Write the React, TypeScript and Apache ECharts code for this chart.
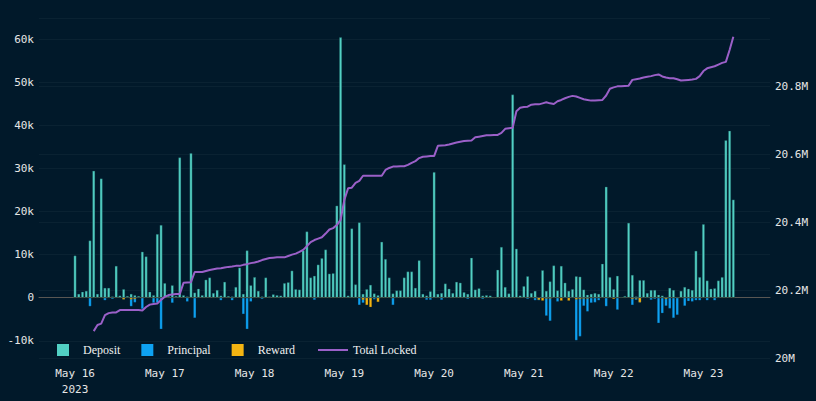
import React, { useEffect, useRef } from 'react';
import * as echarts from 'echarts';

// Hour offsets (0 = May 16 2023 00:00) of the day labels
const dayTicks = [0, 24, 48, 72, 96, 120, 144, 168];
const dayLabels = ['May 16\n2023', 'May 17', 'May 18', 'May 19', 'May 20', 'May 21', 'May 22', 'May 23'];
const leftTicks = [-10000, 0, 10000, 20000, 30000, 40000, 50000, 60000];

// Hourly values, in thousands, starting at hour 0
const depositK = [
  9.8, 0.9, 1.4, 1.6, 13.3, 29.5, 0.9, 27.7, 2.3, 2.3,
  0.3, 7.4, 0.5, 2.0, 0.4, 0.9, 0.6, 0.4, 10.7, 9.6,
  1.4, 0.6, 14.8, 16.9, 3.4, 0.4, 2.9, 0.4, 32.6, 0.6,
  0.3, 33.6, 1.2, 2.1, 0.6, 4.2, 4.7, 1.1, 1.8, 0.5,
  3.7, 0.4, 0.3, 2.5, 7.0, 0.9, 11.0, 2.9, 4.8, 1.6,
  0.3, 4.7, 0.3, 0.8, 0.6, 0.5, 3.4, 3.6, 6.3, 2.0,
  1.9, 11.0, 15.4, 4.7, 5.1, 7.7, 9.2, 11.2, 5.6, 5.7,
  21.4, 60.5, 31.0, 0.5, 16.1, 3.1, 17.5, 0.9, 2.0, 3.0,
  1.0, 0.6, 13.0, 9.0, 4.7, 1.0, 1.7, 1.7, 4.7, 6.1,
  6.1, 2.3, 8.7, 0.9, 0.5, 1.5, 29.2, 0.9, 1.1, 3.3,
  2.1, 1.1, 3.7, 3.5, 1.3, 0.9, 9.3, 1.9, 2.2, 0.5,
  0.6, 0.5, 0.2, 6.5, 11.8, 2.5, 1.0, 47.2, 11.4, 0.5,
  2.7, 5.0, 1.1, 1.6, 0.1, 6.4, 1.6, 3.8, 7.5, 1.7,
  7.4, 3.5, 1.6, 2.0, 5.0, 4.9, 1.9, 0.7, 0.9, 1.1,
  0.9, 7.9, 25.8, 4.8, 2.0, 5.1, 0.2, 0.4, 17.4, 5.3,
  0.3, 4.1, 4.1, 1.1, 1.8, 1.8, 0.7, 0.5, 0.2, 2.3,
  1.8, 0.2, 1.6, 2.5, 2.1, 1.8, 10.9, 4.8, 17.1, 4.0,
  2.1, 2.2, 4.0, 4.8, 36.6, 38.8, 22.8,
];

const principalK = [
  0, 0, 0, 0, -2.0, 0, 0, 0, -0.6, 0,
  -0.3, 0, 0, -0.4, 0, -2.0, -1.1, 0, -2.6, 0,
  0, -1.2, -1.2, -7.3, 0, 0, -1.2, 0, 0, 0,
  -0.9, 0, -4.7, 0, 0, 0, 0, 0, 0, -0.6,
  0, 0, -0.6, 0, 0, -3.8, -7.3, -0.9, 0, 0,
  -0.3, 0, 0, 0, 0, 0, 0, 0, 0, 0,
  0, 0, 0, 0, -0.5, 0, 0, 0, 0, 0,
  0, 0, 0, 0, 0, 0, -1.7, -1.2, -0.5, -0.6,
  -0.4, -0.3, 0, 0, 0, -1.7, 0, 0, 0, 0,
  0, 0, 0, 0, -0.5, -0.5, 0, 0, -0.5, 0,
  0, 0, 0, 0, 0, -0.3, 0, 0, 0, -0.3,
  0, 0, 0, 0, 0, 0, 0, 0, 0, 0,
  0, -0.3, 0, -0.6, -0.6, -0.2, -4.2, -5.4, 0, -0.9,
  0, 0, 0, 0, -9.9, -9.0, -1.9, -3.2, -1.2, -1.1,
  -0.6, 0, -2.0, 0, 0, -2.8, 0, 0, 0, -1.7,
  -0.5, -1.1, 0, 0, -0.5, -0.3, -5.9, -3.6, -1.9, -2.5,
  -4.7, -4.0, 0, -1.9, -0.8, -0.9, -0.6, -0.6, 0, -0.6,
  0, -0.6, 0, 0, 0, 0, 0,
];

const rewardK = [
  0, 0, 0, 0, 0, 0, 0, 0, 0, 0,
  0, 0, 0, -0.4, 0, -0.4, -0.3, 0, 0, 0,
  0, 0, 0, 0, 0, 0, 0, 0, 0, 0,
  0, 0, 0, 0, 0, 0, 0, 0, 0, 0,
  0, 0, 0, 0, 0, 0, 0, 0, 0, 0,
  0, 0, 0, 0, 0, 0, 0, 0, 0, 0,
  0, 0, 0, 0, 0, 0, 0, 0, 0, 0,
  0, 0, 0, 0, 0, 0, 0, -0.5, -1.7, -2.2,
  0, -1.0, 0, 0, 0, 0, 0, 0, 0, 0,
  0, 0, 0, 0, 0, 0, 0, 0, 0, 0,
  0, 0, 0, 0, 0, 0, 0, 0, 0, 0,
  0, 0, 0, 0, 0, 0, 0, 0, 0, 0,
  0, 0, 0, 0, -0.5, -0.7, -0.2, -0.2, 0, 0,
  -0.7, 0, -0.7, 0, -0.4, -0.3, -0.2, -0.2, 0, 0,
  0, 0, 0, 0, -0.3, 0, 0, 0, 0, -0.3,
  -0.2, -1.1, 0, 0, 0, 0, 0, 0, -0.3, 0,
  0, 0, 0, 0, 0, 0, 0, 0, 0, 0,
  0, 0, 0, 0, 0, 0, 0,
];

// Total locked, in millions, hourly from hour 5
const lockedStartHour = 5;
const totalLockedM = [
  20.079, 20.097, 20.101, 20.126, 20.132, 20.134, 20.134, 20.141, 20.141, 20.141,
  20.141, 20.141, 20.141, 20.140, 20.150, 20.157, 20.159, 20.160, 20.171, 20.180,
  20.185, 20.187, 20.188, 20.188, 20.221, 20.222, 20.223, 20.253, 20.253, 20.253,
  20.256, 20.259, 20.261, 20.263, 20.264, 20.266, 20.268, 20.269, 20.271, 20.271,
  20.274, 20.276, 20.279, 20.281, 20.284, 20.288, 20.291, 20.294, 20.295, 20.296,
  20.296, 20.296, 20.300, 20.304, 20.307, 20.312, 20.318, 20.329, 20.341, 20.347,
  20.351, 20.355, 20.366, 20.378, 20.382, 20.391, 20.406, 20.465, 20.499, 20.501,
  20.515, 20.521, 20.536, 20.536, 20.536, 20.536, 20.536, 20.536, 20.553, 20.559,
  20.563, 20.563, 20.564, 20.564, 20.568, 20.574, 20.579, 20.588, 20.592, 20.593,
  20.594, 20.594, 20.624, 20.625, 20.626, 20.628, 20.631, 20.634, 20.636, 20.638,
  20.639, 20.640, 20.649, 20.651, 20.653, 20.655, 20.655, 20.656, 20.656, 20.662,
  20.674, 20.676, 20.677, 20.726, 20.736, 20.738, 20.739, 20.745, 20.746, 20.746,
  20.749, 20.752, 20.749, 20.747, 20.755, 20.759, 20.764, 20.768, 20.771, 20.769,
  20.765, 20.761, 20.759, 20.757, 20.757, 20.758, 20.759, 20.772, 20.792, 20.796,
  20.799, 20.799, 20.800, 20.801, 20.818, 20.820, 20.822, 20.825, 20.827, 20.829,
  20.832, 20.834, 20.828, 20.825, 20.823, 20.823, 20.820, 20.816, 20.817, 20.818,
  20.819, 20.821, 20.829, 20.844, 20.852, 20.855, 20.858, 20.863, 20.868, 20.871,
  20.906, 20.945,
];

const BG = '#01192a';
const MONO = '"DejaVu Sans Mono", monospace';
const SERIF = '"Liberation Serif", "Times New Roman", serif';
const DEPOSIT_C = '#52d0c4';
const PRINCIPAL_C = '#0ea2f2';
const REWARD_C = '#f5b512';
const LINE_C = '#9b60c8';

export default function App() {
  const ref = useRef<HTMLDivElement>(null);

  useEffect(() => {
    if (!ref.current) return;
    const chart = echarts.init(ref.current, null, { renderer: 'svg' });

    const toPairs = (arr: number[], scale: number, start = 0) =>
      arr.map((v, i) => [start + i, v * scale]);

    const barCommon = {
      type: 'bar',
      stack: 'flow',
      barWidth: 2.8,
      yAxisIndex: 0,
    };

    const legendText = { color: '#f0f0f0', fontFamily: SERIF, fontSize: 12 };

    chart.setOption({
      animation: false,
      backgroundColor: BG,
      grid: { left: 39, right: 46, top: 18, bottom: 43, containLabel: false },
      legend: [
        {
          left: 52,
          top: 339,
          itemWidth: 12,
          itemHeight: 12,
          itemGap: 21,
          textStyle: { ...legendText, padding: [0, 0, 0, 9] },
          data: [
            { name: 'Deposit', icon: 'rect', itemStyle: { color: DEPOSIT_C, borderWidth: 0 } },
            { name: 'Principal', icon: 'rect', itemStyle: { color: PRINCIPAL_C, borderWidth: 0 } },
            { name: 'Reward', icon: 'rect', itemStyle: { color: REWARD_C, borderWidth: 0 } },
          ],
        },
        {
          left: 313,
          top: 339,
          itemWidth: 30,
          itemHeight: 12,
          symbolKeepAspect: true,
          textStyle: legendText,
          data: [
            { name: 'Total Locked', icon: 'path://M0,0h30v2h-30z', itemStyle: { color: LINE_C } },
          ],
        },
      ],
      xAxis: {
        type: 'value',
        min: -9.63,
        max: 185.8,
        axisLine: { onZero: true, lineStyle: { color: '#5a5753', width: 1 } },
        axisTick: { show: false },
        splitLine: { show: false },
        axisLabel: {
          customValues: dayTicks,
          color: '#e6e6e6',
          fontFamily: MONO,
          fontSize: 11,
          lineHeight: 16,
          margin: 7,
          formatter: (v: number) => {
            const i = dayTicks.indexOf(Math.round(v));
            return i >= 0 ? dayLabels[i] : '';
          },
        },
      },
      yAxis: [
        {
          type: 'value',
          min: -14000,
          max: 65000,
          axisLine: { show: false },
          axisTick: { show: false, customValues: leftTicks },
          splitLine: { show: true, lineStyle: { color: '#0a2232', width: 1 } },
          axisLabel: {
            customValues: leftTicks,
            color: '#e6e6e6',
            fontFamily: MONO,
            fontSize: 11,
            margin: 5,
            formatter: (v: number) => (v === 0 ? '0' : `${v / 1000}k`),
          },
        },
        {
          type: 'value',
          min: 20000000,
          max: 21000000,
          interval: 200000,
          position: 'right',
          axisLine: { show: false },
          axisTick: { show: false },
          splitLine: { show: true, lineStyle: { color: '#0a2232', width: 1 } },
          axisLabel: {
            color: '#e6e6e6',
            fontFamily: MONO,
            fontSize: 11,
            margin: 5,
            showMaxLabel: false,
            formatter: (v: number) => `${Math.round(v / 100000) / 10}M`,
          },
        },
      ],
      series: [
        {
          ...barCommon,
          name: 'Deposit',
          itemStyle: { color: DEPOSIT_C, borderColor: 'rgba(20,70,75,0.7)', borderWidth: 0.5 },
          data: toPairs(depositK, 1000),
        },
        {
          ...barCommon,
          name: 'Principal',
          itemStyle: { color: PRINCIPAL_C, borderColor: 'rgba(10,50,80,0.6)', borderWidth: 0.4 },
          data: toPairs(principalK, 1000),
        },
        {
          ...barCommon,
          name: 'Reward',
          itemStyle: { color: REWARD_C, borderColor: 'rgba(80,60,10,0.6)', borderWidth: 0.4 },
          data: toPairs(rewardK, 1000),
        },
        {
          name: 'Total Locked',
          type: 'line',
          yAxisIndex: 1,
          symbol: 'none',
          z: 5,
          lineStyle: { color: LINE_C, width: 2 },
          itemStyle: { color: LINE_C },
          data: toPairs(totalLockedM, 1000000, lockedStartHour),
        },
      ],
    });

    return () => chart.dispose();
  }, []);

  return (
    <div
      ref={ref}
      style={{ position: 'fixed', left: 0, top: 0, width: 816, height: 401, background: BG }}
    />
  );
}
